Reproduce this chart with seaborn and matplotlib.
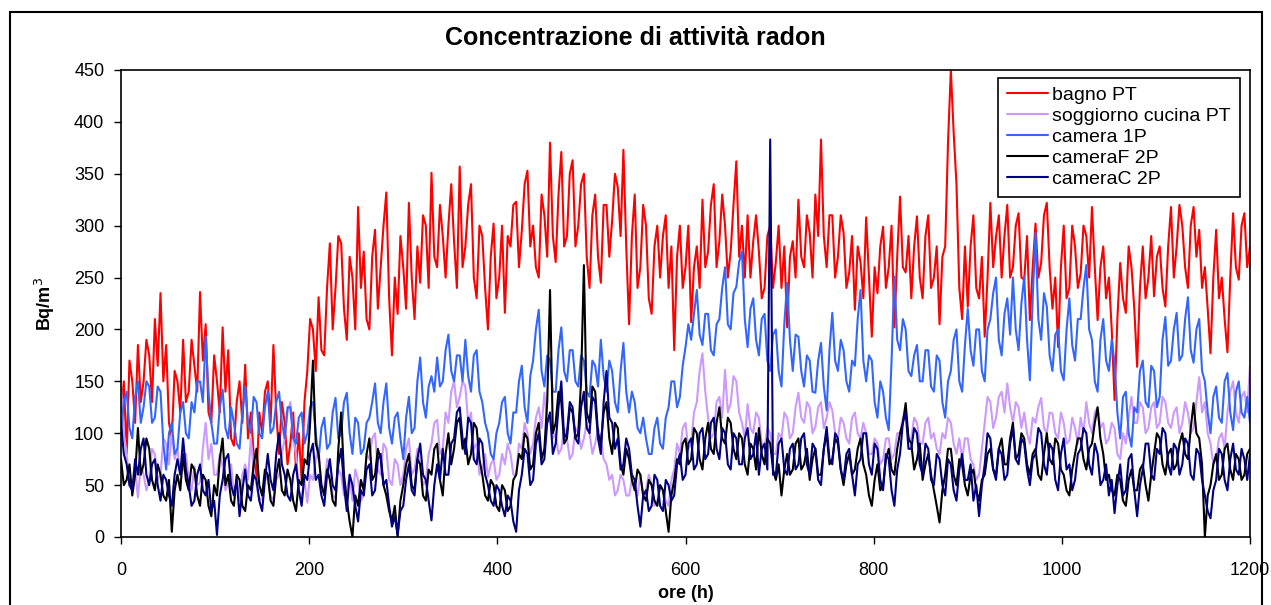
import pandas as pd
import matplotlib
matplotlib.use("Agg")
import matplotlib.pyplot as plt
import seaborn as sns
from matplotlib.patches import Rectangle

# ====== Data (one value every 3 hours) ======
ore = list(range(0, 1201, 3))

bagno_pt = [
    120, 150, 80, 170, 150, 110, 185, 130, 150, 190, 175, 130, 210, 165, 235, 150, 185, 110, 95, 160,
    150, 120, 190, 130, 140, 190, 165, 140, 236, 170, 205, 120, 110, 175, 150, 120, 202, 140, 180, 95,
    88, 130, 150, 110, 166, 95, 120, 80, 55, 120, 100, 140, 150, 110, 185, 120, 80, 130, 110, 70,
    90, 120, 65, 100, 55, 130, 160, 210, 200, 160, 231, 180, 175, 240, 283, 200, 240, 290, 283, 220,
    190, 270, 250, 200, 318, 240, 275, 210, 200, 270, 296, 220, 260, 300, 332, 230, 175, 250, 215, 290,
    260, 220, 322, 250, 210, 280, 245, 310, 300, 240, 351, 270, 260, 320, 290, 250, 300, 340, 285, 240,
    357, 260, 280, 320, 340, 250, 230, 300, 290, 240, 200, 270, 302, 230, 250, 300, 216, 290, 280, 320,
    323, 260, 295, 340, 353, 280, 300, 260, 250, 330, 310, 270, 380, 290, 265, 330, 371, 280, 290, 350,
    363, 280, 300, 340, 350, 270, 240, 310, 330, 270, 245, 320, 320, 270, 305, 350, 337, 290, 373, 280,
    205, 290, 330, 240, 260, 320, 300, 230, 215, 280, 300, 250, 290, 310, 240, 280, 180, 270, 300, 240,
    260, 300, 207, 260, 280, 240, 325, 260, 275, 320, 340, 260, 285, 330, 300, 250, 275, 320, 362, 270,
    300, 250, 310, 250, 285, 310, 275, 230, 240, 290, 300, 240, 265, 300, 240, 280, 202, 270, 285, 250,
    325, 270, 260, 310, 293, 250, 330, 290, 383, 290, 260, 310, 310, 250, 270, 310, 293, 240, 255, 290,
    219, 280, 265, 230, 308, 250, 193, 260, 235, 280, 299, 240, 260, 300, 202, 270, 328, 260, 255, 290,
    230, 280, 309, 250, 230, 290, 310, 240, 250, 280, 205, 270, 280, 380, 450, 390, 340, 240, 210, 280,
    222, 280, 310, 240, 230, 270, 193, 250, 322, 260, 289, 310, 250, 290, 320, 250, 260, 300, 312, 250,
    248, 290, 209, 260, 302, 250, 264, 310, 322, 260, 220, 250, 183, 260, 300, 230, 240, 300, 280, 240,
    254, 300, 290, 250, 318, 260, 209, 260, 280, 230, 250, 200, 132, 210, 264, 230, 216, 280, 260, 220,
    164, 240, 280, 230, 250, 290, 232, 270, 280, 240, 222, 280, 318, 250, 280, 320, 300, 260, 240, 300,
    318, 270, 296, 240, 260, 220, 177, 250, 296, 230, 250, 210, 178, 250, 312, 260, 248, 300, 312, 260,
    280,
]

soggiorno_pt = [
    145, 100, 80, 50, 45, 65, 38, 70, 60, 45, 55, 85, 80, 55, 60, 95, 90, 70, 100, 75,
    85, 60, 65, 80, 55, 45, 68, 50, 52, 85, 110, 75, 90, 60, 60, 80, 68, 45, 52, 70,
    40, 55, 35, 60, 70, 55, 95, 65, 50, 35, 38, 60, 55, 40, 35, 55, 60, 80, 95, 120,
    130, 95, 80, 45, 38, 55, 33, 60, 55, 75, 85, 50, 45, 75, 70, 40, 38, 65, 60, 40,
    45, 60, 35, 65, 55, 35, 40, 80, 75, 95, 100, 65, 60, 90, 85, 55, 50, 75, 70, 50,
    60, 85, 95, 60, 65, 85, 70, 50, 55, 80, 90, 110, 113, 80, 85, 120, 110, 140, 150, 125,
    135, 150, 145, 110, 120, 85, 90, 60, 65, 80, 58, 70, 75, 55, 60, 80, 70, 90, 80, 60,
    60, 90, 85, 110, 100, 80, 90, 115, 125, 105, 139, 110, 113, 95, 100, 80, 85, 105, 95, 75,
    80, 105, 100, 85, 95, 110, 100, 80, 90, 105, 95, 75, 70, 55, 60, 40, 45, 60, 55, 40,
    40, 55, 50, 40, 60, 40, 45, 60, 50, 30, 35, 50, 45, 35, 30, 55, 65, 90, 80, 105,
    110, 85, 90, 120, 130, 160, 177, 140, 115, 95, 100, 130, 135, 115, 161, 120, 129, 155, 150, 120,
    110, 95, 128, 105, 100, 120, 115, 90, 85, 105, 100, 80, 80, 100, 95, 120, 115, 95, 100, 125,
    139, 115, 110, 130, 125, 100, 106, 125, 130, 105, 115, 130, 122, 100, 95, 115, 110, 95, 90, 115,
    120, 100, 95, 110, 100, 80, 80, 95, 90, 70, 75, 95, 95, 75, 80, 100, 100, 115, 120, 95,
    95, 115, 110, 90, 90, 110, 115, 95, 100, 85, 80, 100, 95, 115, 110, 90, 80, 95, 75, 95,
    95, 75, 70, 55, 60, 85, 110, 135, 130, 105, 115, 135, 140, 120, 148, 125, 110, 130, 125, 105,
    120, 100, 90, 115, 110, 125, 134, 105, 100, 120, 119, 100, 95, 120, 110, 90, 93, 115, 105, 90,
    115, 100, 130, 110, 100, 120, 125, 105, 110, 90, 95, 110, 105, 80, 75, 100, 90, 115, 135, 110,
    110, 130, 125, 100, 105, 125, 130, 105, 110, 135, 130, 110, 105, 120, 125, 100, 110, 130, 120, 100,
    105, 130, 154, 120, 130, 100, 90, 70, 75, 95, 100, 85, 120, 140, 150, 120, 110, 135, 140, 120,
    166,
]

camera_1p = [
    100, 130, 140, 105, 95, 135, 150, 110, 125, 150, 145, 110, 115, 145, 140, 90, 65, 100, 110, 80,
    85, 120, 130, 100, 95, 130, 120, 150, 150, 130, 193, 140, 110, 90, 90, 125, 142, 105, 95, 125,
    110, 90, 85, 120, 145, 110, 100, 135, 130, 100, 95, 125, 140, 100, 105, 130, 140, 110, 95, 125,
    125, 95, 90, 115, 120, 90, 100, 125, 130, 100, 75, 105, 115, 85, 90, 120, 134, 95, 100, 130,
    139, 100, 80, 115, 110, 80, 85, 110, 115, 130, 148, 110, 100, 130, 148, 105, 90, 115, 120, 95,
    75, 115, 135, 100, 105, 150, 173, 130, 115, 145, 155, 140, 173, 145, 150, 180, 195, 160, 150, 175,
    175, 150, 190, 155, 140, 175, 180, 140, 130, 110, 100, 80, 75, 100, 110, 130, 135, 100, 90, 120,
    120, 150, 165, 125, 110, 155, 170, 200, 219, 160, 145, 175, 170, 140, 140, 180, 202, 160, 150, 180,
    180, 150, 145, 175, 170, 140, 135, 170, 165, 145, 190, 155, 140, 170, 160, 130, 120, 160, 187, 140,
    120, 140, 130, 105, 100, 115, 95, 80, 80, 105, 115, 90, 85, 115, 125, 150, 150, 125, 135, 165,
    183, 205, 190, 215, 238, 195, 185, 215, 215, 180, 175, 205, 210, 240, 260, 205, 200, 235, 241, 265,
    275, 210, 183, 220, 230, 190, 175, 210, 215, 170, 160, 195, 200, 160, 145, 205, 245, 190, 160, 195,
    193, 160, 145, 175, 170, 140, 139, 170, 187, 145, 122, 180, 216, 170, 160, 190, 180, 150, 140, 170,
    165, 210, 238, 170, 150, 175, 170, 130, 115, 150, 140, 115, 103, 170, 251, 190, 180, 210, 200, 160,
    155, 175, 185, 150, 150, 180, 180, 145, 140, 175, 170, 130, 115, 150, 160, 190, 200, 150, 140, 185,
    220, 180, 165, 200, 200, 160, 150, 200, 210, 235, 250, 190, 175, 215, 230, 195, 250, 200, 180, 225,
    251, 190, 151, 230, 293, 210, 190, 235, 222, 175, 160, 195, 200, 160, 151, 200, 230, 185, 170, 210,
    210, 240, 262, 200, 190, 150, 140, 190, 210, 170, 160, 190, 168, 120, 95, 135, 140, 100, 87, 125,
    120, 160, 170, 130, 125, 165, 160, 125, 135, 190, 212, 165, 170, 200, 216, 170, 175, 210, 231, 180,
    168, 200, 210, 160, 150, 120, 100, 135, 145, 115, 110, 150, 158, 120, 103, 140, 150, 120, 115, 135,
    110,
]

cameraf_2p = [
    75, 50, 55, 70, 40, 60, 105, 60, 70, 95, 85, 55, 45, 70, 60, 40, 35, 55, 5, 45,
    60, 45, 80, 55, 45, 70, 65, 40, 30, 60, 55, 30, 20, 50, 40, 75, 95, 50, 60, 35,
    30, 60, 55, 30, 25, 50, 45, 70, 85, 50, 40, 65, 60, 35, 30, 60, 75, 45, 40, 65,
    55, 35, 25, 55, 50, 75, 70, 110, 170, 90, 80, 50, 40, 65, 55, 35, 30, 85, 120, 60,
    35, 15, 0, 40, 30, 55, 45, 80, 95, 55, 60, 85, 75, 50, 40, 25, 15, 30, 0, 35,
    50, 70, 80, 50, 45, 75, 70, 40, 35, 65, 60, 85, 90, 55, 40, 80, 100, 70, 85, 110,
    115, 85, 95, 70, 80, 110, 105, 75, 60, 40, 35, 55, 50, 30, 25, 50, 45, 25, 30, 55,
    60, 80, 75, 100, 95, 65, 70, 100, 110, 75, 85, 130, 238, 100, 110, 140, 130, 90, 95, 125,
    120, 95, 100, 150, 262, 120, 110, 145, 140, 100, 90, 120, 130, 95, 80, 110, 105, 70, 60, 85,
    75, 55, 45, 65, 60, 40, 35, 55, 50, 35, 30, 50, 45, 25, 5, 40, 55, 75, 70, 90,
    95, 70, 75, 105, 100, 75, 65, 95, 110, 85, 80, 110, 125, 95, 90, 115, 110, 85, 75, 100,
    95, 70, 60, 90, 85, 65, 105, 80, 70, 95, 90, 65, 55, 70, 40, 65, 80, 60, 65, 90,
    95, 65, 70, 85, 55, 75, 85, 60, 60, 85, 100, 70, 75, 95, 90, 65, 50, 70, 80, 60,
    65, 85, 95, 70, 60, 40, 30, 55, 70, 45, 50, 75, 85, 65, 60, 85, 100, 110, 129, 95,
    90, 65, 75, 90, 55, 70, 80, 60, 45, 30, 14, 45, 60, 85, 85, 60, 50, 75, 70, 50,
    40, 60, 65, 45, 35, 55, 60, 80, 85, 65, 60, 85, 95, 70, 70, 95, 110, 75, 80, 100,
    95, 70, 60, 80, 85, 60, 55, 80, 100, 75, 70, 95, 90, 65, 60, 45, 40, 65, 80, 95,
    95, 75, 65, 85, 90, 110, 125, 95, 80, 55, 60, 45, 40, 60, 55, 35, 30, 55, 65, 45,
    45, 65, 70, 50, 35, 60, 80, 100, 95, 70, 60, 80, 85, 65, 70, 90, 100, 80, 75, 105,
    129, 100, 95, 70, 0, 40, 50, 70, 80, 55, 60, 85, 90, 65, 55, 80, 75, 55, 60, 80,
    85,
]

camerac_2p = [
    110, 80, 70, 50, 45, 75, 60, 85, 95, 60, 50, 70, 75, 50, 35, 60, 55, 40, 30, 60,
    75, 60, 95, 65, 50, 30, 35, 60, 70, 45, 40, 55, 25, 35, 2, 40, 55, 75, 80, 50,
    40, 55, 20, 45, 65, 40, 35, 60, 55, 35, 25, 55, 80, 55, 45, 80, 100, 70, 60, 40,
    35, 60, 70, 45, 30, 60, 55, 80, 90, 55, 60, 40, 30, 60, 75, 50, 45, 70, 85, 50,
    25, 60, 50, 30, 15, 45, 40, 65, 70, 40, 45, 75, 80, 50, 55, 30, 10, 20, 2, 25,
    30, 55, 70, 45, 40, 75, 90, 60, 55, 35, 16, 50, 70, 55, 85, 60, 60, 90, 95, 120,
    125, 95, 80, 115, 110, 75, 70, 95, 90, 60, 50, 35, 30, 50, 45, 30, 20, 40, 35, 15,
    5, 45, 60, 85, 80, 50, 55, 90, 100, 70, 75, 110, 120, 80, 90, 125, 150, 95, 100, 130,
    125, 95, 90, 125, 140, 105, 100, 135, 130, 95, 80, 130, 160, 115, 110, 85, 95, 65, 70, 95,
    85, 60, 55, 30, 10, 40, 45, 25, 30, 60, 55, 30, 25, 55, 50, 35, 40, 70, 80, 55,
    60, 90, 95, 65, 70, 100, 105, 75, 80, 110, 115, 85, 75, 105, 100, 70, 65, 100, 95, 70,
    70, 95, 105, 75, 80, 100, 60, 85, 90, 65, 383, 60, 60, 90, 95, 65, 60, 85, 90, 65,
    70, 95, 100, 70, 60, 90, 85, 55, 50, 85, 106, 75, 70, 100, 95, 65, 55, 80, 85, 60,
    40, 70, 75, 100, 100, 70, 60, 90, 85, 55, 45, 80, 75, 45, 30, 65, 80, 110, 120, 85,
    85, 105, 100, 70, 60, 90, 85, 55, 50, 80, 75, 50, 40, 75, 70, 45, 35, 65, 80, 55,
    55, 70, 35, 50, 20, 50, 70, 100, 95, 65, 55, 85, 80, 55, 60, 90, 105, 75, 70, 95,
    90, 65, 50, 75, 80, 105, 100, 70, 60, 90, 85, 55, 45, 80, 95, 65, 70, 45, 55, 80,
    85, 105, 100, 70, 60, 90, 80, 50, 55, 70, 40, 55, 23, 50, 70, 40, 45, 75, 80, 45,
    20, 50, 65, 90, 90, 60, 55, 85, 80, 105, 100, 70, 60, 90, 85, 60, 70, 95, 90, 60,
    55, 85, 80, 55, 40, 25, 18, 45, 55, 85, 80, 55, 45, 75, 90, 65, 60, 85, 75, 55,
    80,
]

serie = ["bagno PT", "soggiorno cucina PT", "camera 1P", "cameraF 2P", "cameraC 2P"]
colori = ["#FF0000", "#CC99FF", "#3366FF", "#000000", "#000080"]

valori = [bagno_pt, soggiorno_pt, camera_1p, cameraf_2p, camerac_2p]
df = pd.concat(
    [pd.DataFrame({"ore": ore, "Bq": v, "serie": s}) for s, v in zip(serie, valori)],
    ignore_index=True,
)

# ====== Plot ======
sns.set_style("ticks")
plt.rcParams["font.family"] = ["Liberation Sans", "DejaVu Sans"]
plt.rcParams["text.color"] = "black"
plt.rcParams["axes.labelcolor"] = "black"

fig = plt.figure(figsize=(12.71, 6.05), dpi=100)
ax = fig.add_axes([0.0952, 0.1124, 0.8883, 0.7719])

sns.lineplot(
    data=df, x="ore", y="Bq", hue="serie", hue_order=serie,
    palette=dict(zip(serie, colori)), estimator=None, sort=False,
    linewidth=1.5, ax=ax,
)

ax.set_xlim(0, 1200)
ax.set_ylim(0, 450)
ax.set_xticks(range(0, 1201, 200))
ax.set_yticks(range(0, 451, 50))
ax.tick_params(direction="out", length=5, width=1, labelsize=13, colors="black")
ax.tick_params(axis="x", pad=13)
ax.tick_params(axis="y", pad=7)
for sp in ax.spines.values():
    sp.set_visible(True)
    sp.set_color("black")
    sp.set_linewidth(1.2)

ax.set_xlabel("ore (h)", fontsize=13, fontweight="bold", labelpad=4)
ax.set_ylabel("Bq/m$^3$", fontsize=13, fontweight="bold", labelpad=12)
fig.text(0.5, 0.937, "Concentrazione di attività radon", ha="center", va="center",
         fontsize=18, fontweight="bold")

leg = ax.legend(loc="upper right", bbox_to_anchor=(0.991, 0.983), borderaxespad=0,
                fancybox=False, framealpha=1, edgecolor="black", fontsize=14,
                handlelength=2.1, handletextpad=0.25, labelspacing=0.17,
                borderpad=0.45, title=None)
leg.get_frame().set_linewidth(1.2)
for line in leg.get_lines():
    line.set_linewidth(1.5)

# chart area border
fig.patches.append(Rectangle((10 / 1271, -0.02), 1252 / 1271, 0.02 + 1 - 12 / 605,
                             transform=fig.transFigure, fill=False,
                             edgecolor="black", linewidth=1.5))

fig.savefig("out.png", dpi=100)
